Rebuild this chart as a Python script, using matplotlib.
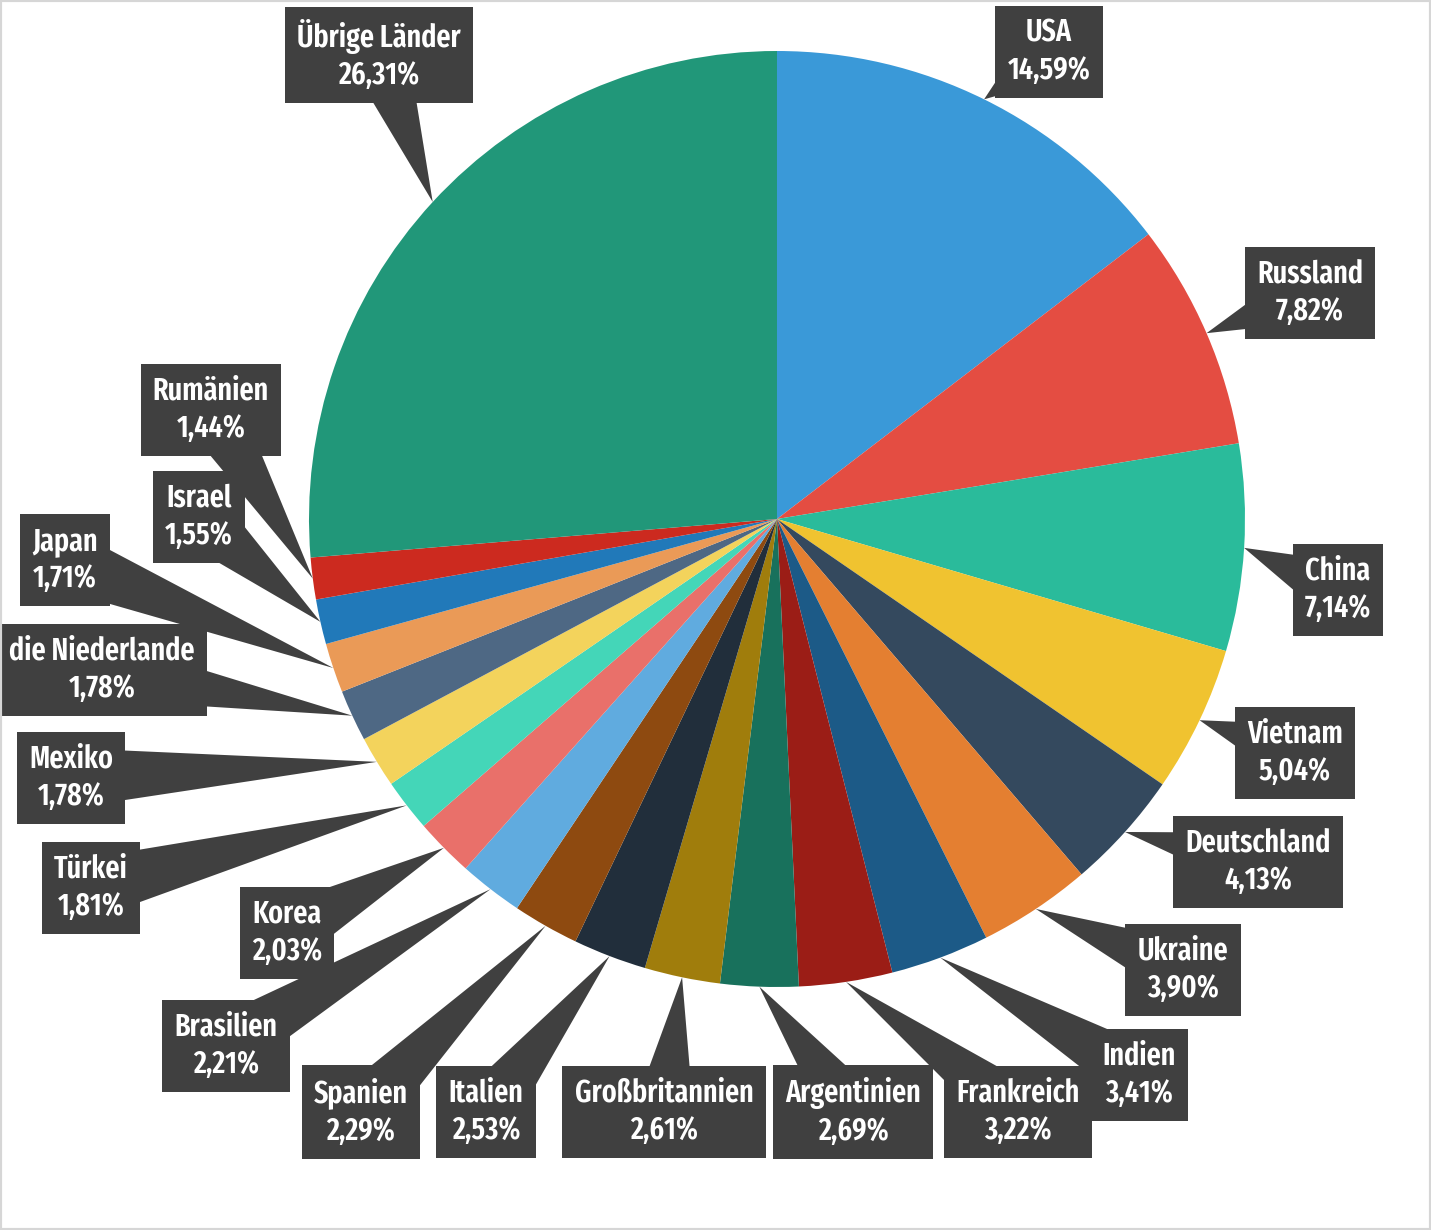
import numpy as np
import matplotlib.pyplot as plt
from matplotlib.patches import Polygon, Rectangle

# data
countries = ["USA", "Russland", "China", "Vietnam", "Deutschland", "Ukraine",
             "Indien", "Frankreich", "Argentinien", "Großbritannien", "Italien",
             "Spanien", "Brasilien", "Korea", "Türkei", "Mexiko",
             "die Niederlande", "Japan", "Israel", "Rumänien", "Übrige Länder"]
shares = [14.59, 7.82, 7.14, 5.04, 4.13, 3.90, 3.41, 3.22, 2.69, 2.61, 2.53,
          2.29, 2.21, 2.03, 1.81, 1.78, 1.78, 1.71, 1.55, 1.44, 26.31]
colors = ["#3a99d8", "#e44d42", "#2abb9b", "#f0c330", "#34495e", "#e47f31",
          "#1c5a87", "#9b1d16", "#18715c", "#a07d0c", "#212e3b", "#8e4a10",
          "#60abdf", "#e9706a", "#44d6b8", "#f3d35c", "#4e6884", "#ea9a57",
          "#2179b9", "#cc2a1f", "#219779"]

# label box centres (pixels from top-left)
label_pos = [(1049, 52), (1310, 293), (1338, 590), (1295, 753), (1258, 862),
             (1183, 970), (1139, 1075), (1018, 1112), (853, 1112), (664, 1112),
             (486, 1112), (361, 1112), (226, 1046), (287, 933), (91, 888),
             (71, 778), (102, 670), (65, 560), (199, 517), (211, 410),
             (379, 55)]

W, H = 1431, 1230
cx, cy, R = 777, H - 519, 468
box_col = "#404040"
font = ["Fira Sans Extra Condensed", "Fira Sans Condensed", "DejaVu Sans"]

fig = plt.figure(figsize=(W / 100, H / 100), dpi=100)
ax = fig.add_axes([0, 0, 1, 1])

wedges, _ = ax.pie(shares, colors=colors, startangle=90, counterclock=False,
                   center=(cx, cy), radius=R,
                   wedgeprops=dict(linewidth=0))
ax.set_xlim(0, W)
ax.set_ylim(0, H)
ax.set_aspect("equal")
ax.axis("off")

for w, name, v, (px, py) in zip(wedges, countries, shares, label_pos):
    mid = np.deg2rad((w.theta1 + w.theta2) / 2)
    tip = np.array([cx + R * np.cos(mid), cy + R * np.sin(mid)])
    c = np.array([px, H - py])
    d = tip - c
    n = np.array([-d[1], d[0]]) / np.hypot(*d)
    tail = Polygon([tip, c + n * 30, c - n * 30], closed=True,
                   facecolor=box_col, edgecolor="none", zorder=3)
    ax.add_patch(tail)
    txt = name + "\n" + f"{v:.2f}".replace(".", ",") + "%"
    ax.text(c[0], c[1], txt, ha="center", va="center", color="white",
            fontsize=22, fontweight=600, family=font,
            linespacing=1.3, zorder=4,
            bbox=dict(boxstyle="square,pad=0.4", facecolor=box_col,
                      edgecolor="none"))

fig.add_artist(Rectangle((0, 0), 1, 1, transform=fig.transFigure,
                         fill=False, edgecolor="#d6d6d6", linewidth=3))

fig.savefig("out.png", dpi=100)
